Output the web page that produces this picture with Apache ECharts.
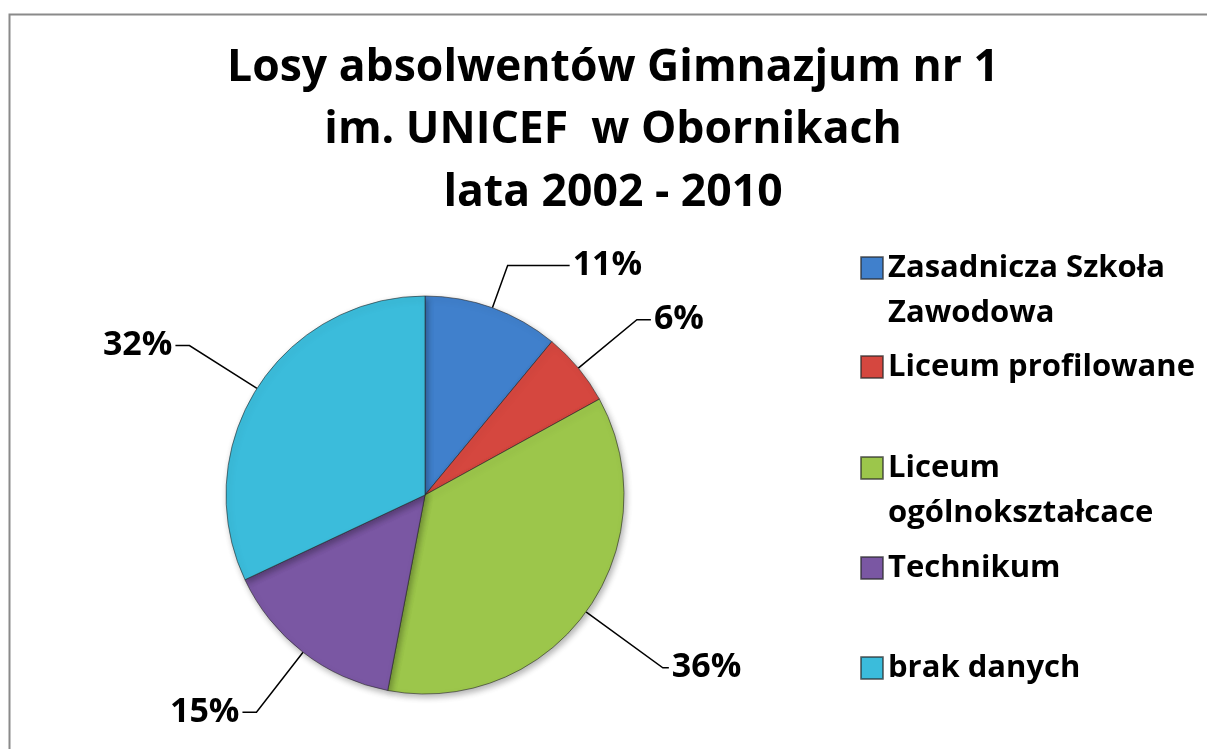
<!DOCTYPE html>
<html>
<head>
<meta charset="utf-8">
<script src="https://cdn.jsdelivr.net/npm/echarts@6/dist/echarts.min.js"></script>
<style>
  html, body { margin: 0; padding: 0; background: #fff; }
  #chart { width: 1207px; height: 749px; }
</style>
</head>
<body>
<div id="chart"></div>
<script>
const titleLines = ['Losy absolwentów Gimnazjum nr 1', 'im. UNICEF  w Obornikach', 'lata 2002 - 2010']
const categories = ['Zasadnicza Szkoła\nZawodowa', 'Liceum profilowane', 'Liceum\nogólnokształcace', 'Technikum', 'brak danych']
const values = [11, 6, 36, 15, 32]
const colors = ['#4080cc', '#d5473f', '#9cc64b', '#7a57a3', '#3bbcdb']
// leader line lengths per slice [length, length2]
const leaderLines = [[45, 62], [76, 14], [95, 6], [76, 14], [80, 14]]

const font = '"Open Sans", Lato, sans-serif'
const legendCenters = [268, 367, 468, 568, 668]
const lineH = 45

const myChart = echarts.init(document.getElementById('chart'))

// one legend per item so the gaps can follow the original; two-line names get an
// empty first line so the icon lines up with the first real line
const legends = categories.map((name, i) => {
  const twoLines = name.indexOf('\n') >= 0
  return {
    data: [name],
    orient: 'vertical',
    left: 860,
    top: legendCenters[i] - (twoLines ? lineH * 1.5 : lineH / 2),
    padding: 0,
    itemWidth: 22,
    itemHeight: 22,
    itemGap: 0,
    icon: 'rect',
    selectedMode: false,
    formatter: n => (n.indexOf('\n') >= 0 ? '\n' + n : n),
    textStyle: {
      fontFamily: font,
      fontWeight: 'bold',
      fontSize: 31,
      lineHeight: lineH,
      color: '#000'
    }
  }
})

const option = {
  backgroundColor: '#fff',
  animation: false,
  color: colors,
  title: {
    text: titleLines.join('\n'),
    left: 613,
    textAlign: 'center',
    top: 37,
    padding: 0,
    textStyle: {
      fontFamily: font,
      fontWeight: 'bold',
      fontSize: 44.5,
      lineHeight: 62.5,
      color: '#000'
    }
  },
  graphic: [{
    type: 'rect',
    shape: { x: 9.5, y: 14.5, width: 1300, height: 800 },
    style: { fill: 'none', stroke: '#8a8a8a', lineWidth: 2 },
    silent: true
  }],
  legend: legends,
  series: [
    {
      type: 'pie',
      center: [425, 495],
      radius: 199,
      startAngle: 90,
      clockwise: true,
      data: categories.map((name, i) => ({
        name: name,
        value: values[i],
        labelLine: { length: leaderLines[i][0], length2: leaderLines[i][1] }
      })),
      itemStyle: {
        borderColor: 'rgba(40,40,40,0.6)',
        borderWidth: 1,
        shadowBlur: 6,
        shadowOffsetX: 2,
        shadowOffsetY: 3,
        shadowColor: 'rgba(0,0,0,0.3)'
      },
      label: {
        show: true,
        position: 'outside',
        formatter: '{c}%',
        fontFamily: font,
        fontWeight: 'bold',
        fontSize: 34,
        color: '#000',
        distanceToLabelLine: 3
      },
      labelLine: {
        show: true,
        lineStyle: { color: '#000', width: 1.5 }
      },
      emphasis: { disabled: true }
    }
  ]
}
myChart.setOption(option)
window.addEventListener('resize', function() {
  myChart.resize()
})
</script>
</body>
</html>
